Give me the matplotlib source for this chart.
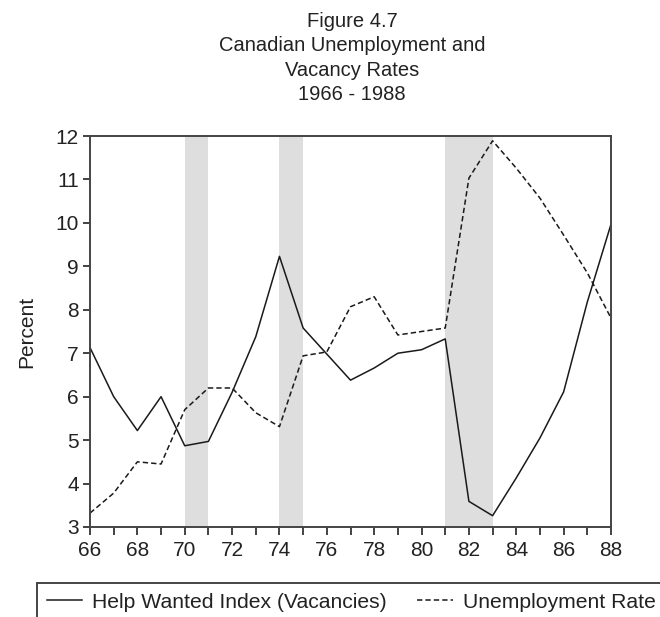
import matplotlib
matplotlib.use('Agg')
import matplotlib.pyplot as plt
from matplotlib.patches import Rectangle
from matplotlib.ticker import MultipleLocator

plt.rcParams['font.family'] = ['Liberation Sans', 'DejaVu Sans']

# data
years = list(range(66, 89))
help_wanted = [7.13, 6.00, 5.22, 6.00, 4.87, 4.97, 6.10, 7.38, 9.23, 7.58, 6.98, 6.38,
               6.66, 7.00, 7.08, 7.33, 3.59, 3.26, 4.13, 5.05, 6.11, 8.18, 9.97]
unemployment = [3.32, 3.78, 4.50, 4.45, 5.70, 6.20, 6.20, 5.63, 5.31, 6.94, 7.03, 8.07,
                8.30, 7.42, 7.50, 7.58, 11.03, 11.89, 11.26, 10.57, 9.72, 8.85, 7.81]
recessions = [(70, 71), (74, 75), (81, 83)]

W, H = 660, 617
fig = plt.figure(figsize=(W / 100, H / 100), dpi=100)
ax = fig.add_axes([90 / W, 1 - 527 / H, 521 / W, 391 / H])

# shaded periods
for start, end in recessions:
    ax.axvspan(start, end, color='#dedede', lw=0, zorder=0)

l1, = ax.plot(years, help_wanted, color='#1a1a1a', lw=1.1, label='Help Wanted Index (Vacancies)')
l2, = ax.plot(years, unemployment, color='#1a1a1a', lw=1.1, dashes=(3.5, 2),
              label='Unemployment Rate')

ax.set_xlim(66, 88)
ax.set_ylim(3, 12)
ax.xaxis.set_major_locator(MultipleLocator(2))
ax.xaxis.set_minor_locator(MultipleLocator(1))
ax.yaxis.set_major_locator(MultipleLocator(1))
ax.tick_params(axis='x', which='both', direction='out', length=6, width=1.2,
               labelsize=15, pad=4, colors='#222222')
ax.tick_params(axis='y', direction='out', length=5, width=1.2,
               labelsize=15, pad=3, colors='#222222')
for s in ax.spines.values():
    s.set_color('#444444')
    s.set_linewidth(1.4)

ax.set_ylabel('Percent', fontsize=15, color='#222222', labelpad=14)

fig.text(352 / W, 1 - 12 / H, 'Figure 4.7\nCanadian Unemployment and\nVacancy Rates\n1966 - 1988',
         ha='center', va='top', fontsize=14.5, color='#222222', linespacing=1.35)

# legend box runs off the right and bottom edges in the original
fig.add_artist(Rectangle((37 / W, -0.05), 0.99, 0.05 + 1 - 583 / H, transform=fig.transFigure,
                         fill=False, edgecolor='#444444', lw=1.4))
leg = fig.legend(handles=[l1, l2], loc='upper left', bbox_to_anchor=(37 / W, 1 - 583 / H),
                 ncol=2, fontsize=15.2, frameon=False, handlelength=1.7,
                 handletextpad=0.45, columnspacing=1.45, borderpad=0.45, borderaxespad=0)
for t in leg.get_texts():
    t.set_color('#222222')

fig.savefig('out.png', dpi=100)
